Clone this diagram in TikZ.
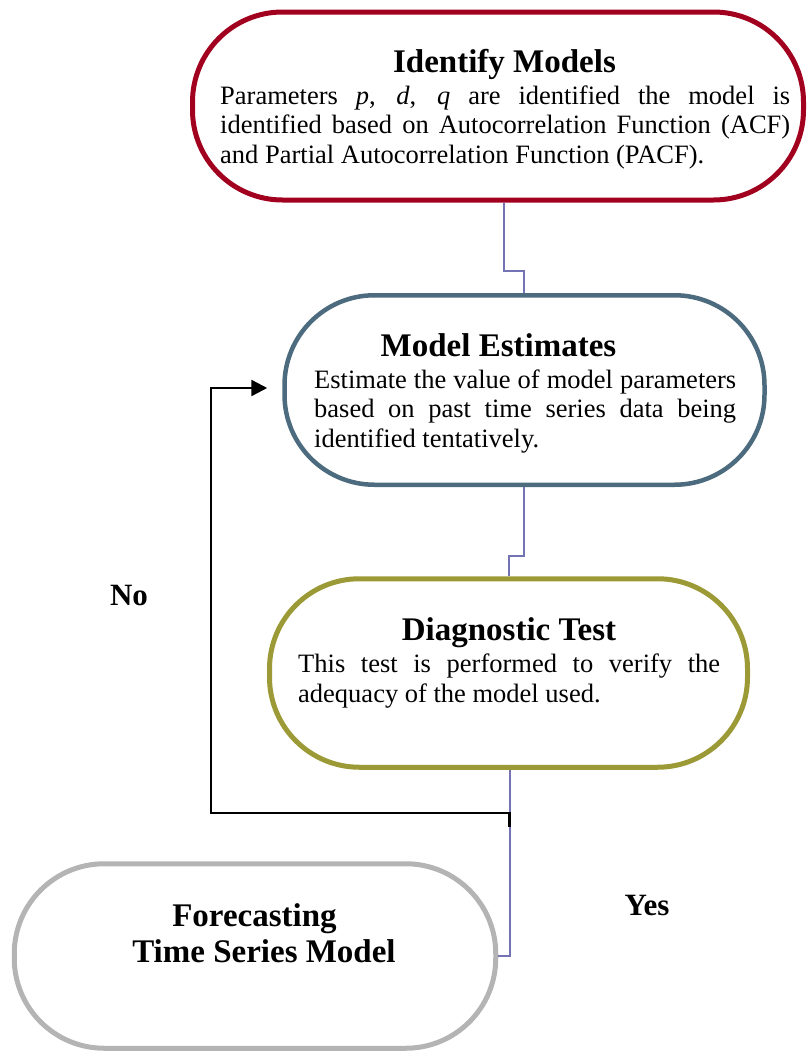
\documentclass[tikz,border=0pt]{standalone}
\usepackage{fontspec}
\setmainfont{Liberation Serif}
\usetikzlibrary{arrows.meta}
\definecolor{idred}{HTML}{A2001F}
\definecolor{estblue}{HTML}{4D6B7E}
\definecolor{diagolive}{HTML}{9C9A36}
\definecolor{fcgray}{HTML}{B4B4B4}
\definecolor{connpurple}{HTML}{7474B4}
\tikzset{
  stadium/.style={draw, line width=5pt, rounded corners=90pt, inner sep=0pt, fill=none},
  conn/.style={draw=connpurple, line width=2pt},
  feedback/.style={draw=black, line width=2.5pt, -{Triangle[length=16pt,width=16pt]}},
  boxtitle/.style={font=\fontsize{33}{36}\selectfont\bfseries, inner sep=0pt, anchor=base},
  boxbody/.style={font=\fontsize{26.5}{29.5}\selectfont, inner sep=0pt, align=justify, anchor=base west},
  answer/.style={font=\fontsize{31}{34}\selectfont\bfseries, inner sep=0pt, anchor=base}
}
\begin{document}
\begin{tikzpicture}[x=1pt,y=-1pt]
\useasboundingbox (0,0) rectangle (808,1052);
% boxes (shapes only)
\node[stadium, draw=idred, minimum width=611pt, minimum height=188pt] (b1) at (498,106) {};
\node[stadium, draw=estblue, line width=4.5pt, minimum width=480pt, minimum height=189.5pt] (b2) at (524.5,390) {};
\node[stadium, draw=diagolive, minimum width=478pt, minimum height=188.5pt] (b3) at (508.5,673) {};
\node[stadium, draw=fcgray, minimum width=481.5pt, minimum height=184.5pt] (b4) at (255,956) {};
% helper coordinates
\coordinate (k1) at (504,271);
\coordinate (k2) at (524,271);
\coordinate (k3) at (524,555.5);
\coordinate (k4) at (509,555.5);
\coordinate (k5) at (509.5,0);
\coordinate (na) at (509.5,827);
\coordinate (nb) at (211,813);
% connectors
\draw[conn] (b1.south -| k1) -- (k1) -- (k2) -- (b2.north -| k2);
\draw[conn] (b2.south -| k3) -- (k3) -- (k4) -- (b3.north -| k4);
\draw[conn] (b3.south -| k5) |- (b4.east);
\draw[feedback] (na) |- (nb) |- ([xshift=-15pt,yshift=2pt]b2.west);
% texts
\node[boxtitle] (h1) at (504.5,72) {Identify Models};
\node[boxbody, text width=570pt] (p1) at (220,104) {Parameters \textit{p}, \textit{d}, \textit{q} are identified the model is\linebreak identified based on Autocorrelation Function (ACF)\linebreak and Partial Autocorrelation Function (PACF).};
\node[boxtitle] (h2) at (498.5,356) {Model Estimates};
\node[boxbody, text width=422pt] (p2) at (314,388) {Estimate the value of model parameters\linebreak based on past time series data being\linebreak identified tentatively.};
\node[boxtitle] (h3) at (509,640) {Diagnostic Test};
\node[boxbody, text width=422pt] (p3) at (298,672.5) {This test is performed to verify the\linebreak adequacy of the model used.};
\node[boxtitle] (h4a) at (254.5,926) {Forecasting};
\node[boxtitle] (h4b) at (264,962) {Time Series Model};
\node[answer] (no) at (129,605) {No};
\node[answer] (yes) at (647,915) {Yes};
\end{tikzpicture}
\end{document}
